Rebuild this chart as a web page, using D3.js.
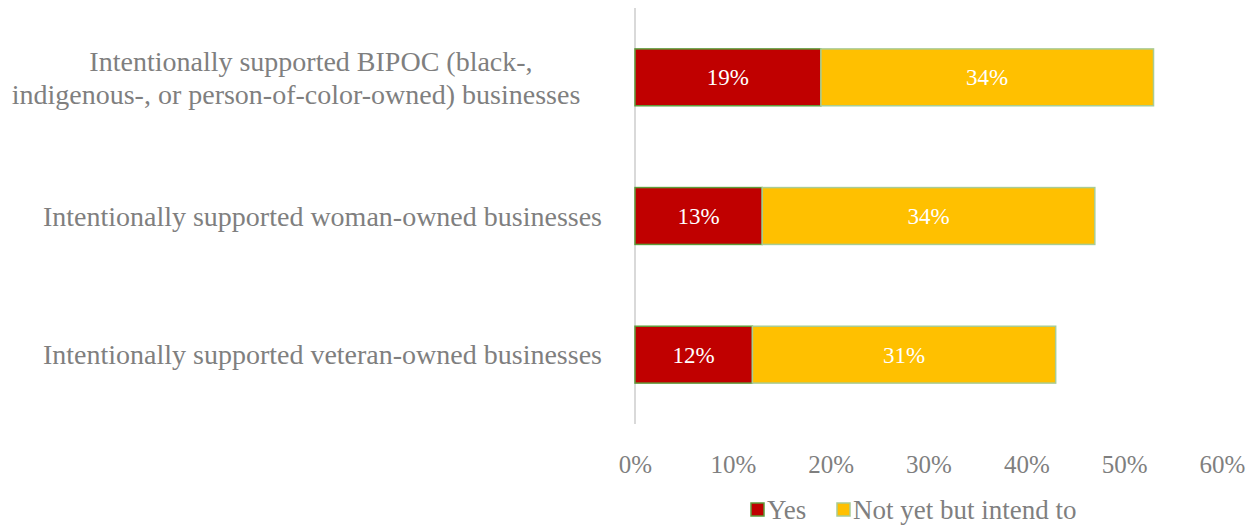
<!DOCTYPE html>
<html><head><meta charset="utf-8">
<script src="https://cdn.jsdelivr.net/npm/d3@7"></script>
<style>
body{margin:0;background:#fff;}
svg{display:block;font-family:"Liberation Serif","DejaVu Serif",serif;}
</style></head>
<body><svg id="c" width="1251" height="525"></svg>
<script>
const categories = [
  ["Intentionally supported BIPOC (black-,", "indigenous-, or person-of-color-owned) businesses"],
  ["Intentionally supported woman-owned businesses"],
  ["Intentionally supported veteran-owned businesses"]
];
const seriesNames = ["Yes", "Not yet but intend to"];
const yesValues = [19, 13, 12];
const intendValues = [34, 34, 31];
const tickValues = [0, 10, 20, 30, 40, 50, 60];

const colors = ["#C00000", "#FFC000"];
const strokes = ["#5E9A3A", "#A9CC94"];

const svg = d3.select("#c");
const x = d3.scaleLinear().domain([0, 60]).range([635, 1222]);
const y = d3.scaleBand().domain(d3.range(categories.length)).range([8, 424]).paddingInner(0.59).paddingOuter(0.295);

const stackData = categories.map((c, i) => ({i, yes: yesValues[i], intend: intendValues[i]}));
const stack = d3.stack().keys(["yes", "intend"])(stackData);

// axis line
svg.append("line").attr("x1", x(0)).attr("x2", x(0)).attr("y1", 8).attr("y2", 424)
  .attr("stroke", "#d9d9d9").attr("stroke-width", 2);

stack.forEach((layer, k) => {
  const g = svg.append("g");
  g.selectAll("rect").data(layer).join("rect")
    .attr("x", d => x(d[0]))
    .attr("width", d => x(d[1]) - x(d[0]))
    .attr("y", d => y(d.data.i))
    .attr("height", y.bandwidth())
    .attr("fill", colors[k])
    .attr("stroke", strokes[k]).attr("stroke-width", 1.5);
  g.selectAll("text").data(layer).join("text")
    .attr("x", d => (x(d[0]) + x(d[1])) / 2)
    .attr("y", d => y(d.data.i) + y.bandwidth() / 2)
    .attr("dy", "0.35em")
    .attr("text-anchor", "middle")
    .attr("fill", "#fff")
    .attr("font-size", 23)
    .text(d => (d[1] - d[0]) + "%");
});

// x ticks
const xAxis = d3.axisBottom(x).tickValues(tickValues).tickFormat(d => d + "%").tickSize(0).tickPadding(0);
const ax = svg.append("g").attr("transform", "translate(0,455)").call(xAxis);
ax.select(".domain").remove();
ax.selectAll("text").attr("font-size", 25).attr("fill", "#7f7f7f").attr("font-family", "Liberation Serif, serif");

// category labels
const wrapOffsets = [311, 296];
categories.forEach((lines, i) => {
  const cy = y(i) + y.bandwidth() / 2;
  const lh = 33;
  const multi = lines.length > 1;
  const t = svg.append("text").attr("text-anchor", multi ? "middle" : "end")
    .attr("fill", "#7f7f7f").attr("font-size", 28);
  lines.forEach((l, j) => {
    t.append("tspan").attr("x", multi ? wrapOffsets[j] : 602)
      .attr("y", cy + (j - (lines.length - 1) / 2) * lh)
      .attr("dy", "0.35em").text(l);
  });
});

// legend
const legX = [751, 837];
seriesNames.forEach((n, k) => {
  svg.append("rect").attr("x", legX[k]).attr("y", 503).attr("width", 13).attr("height", 13)
    .attr("fill", colors[k]).attr("stroke", strokes[k]).attr("stroke-width", 1.5);
  svg.append("text").attr("x", legX[k] + 16).attr("y", 510).attr("dy", "0.35em")
    .attr("font-size", 27).attr("fill", "#7f7f7f").text(n);
});
</script></body></html>
